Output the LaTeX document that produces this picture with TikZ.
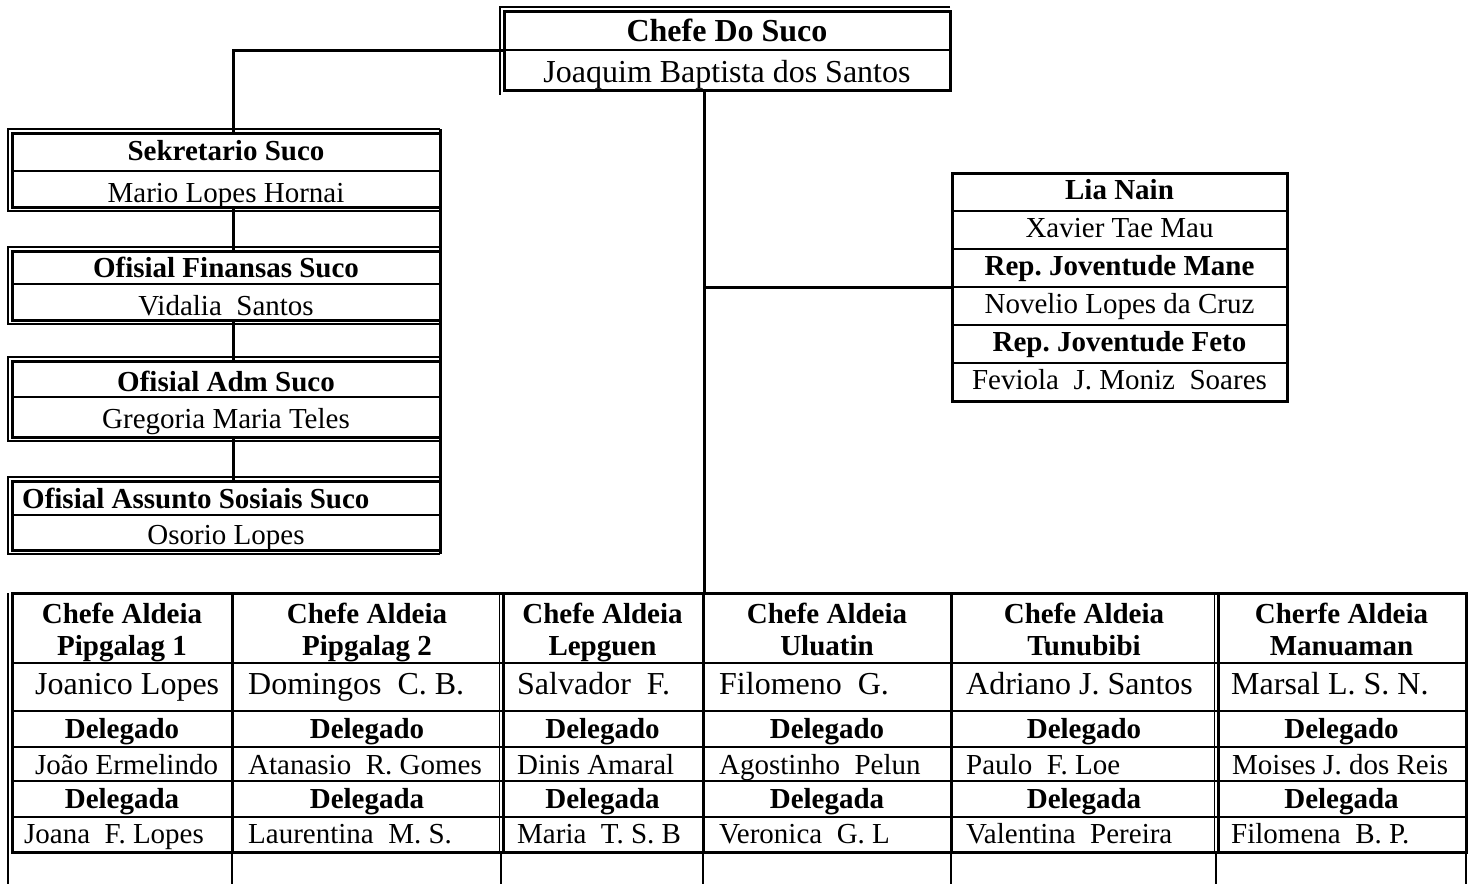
\documentclass[tikz,border=0pt]{standalone}
\usepackage{fontspec}
\setmainfont{Liberation Serif}
\usetikzlibrary{calc}
\begin{document}
\frenchspacing
\begin{tikzpicture}[x=1pt,y=-1pt,
  thk/.style={line width=3pt},
  thn/.style={line width=1.3pt},
  med/.style={line width=2.5pt},
  boxframe/.style={draw, line width=3pt, inner sep=0pt, outer sep=0pt, anchor=north west},
  tx/.style={inner sep=0pt, anchor=base, font=\fontsize{29}{32}\selectfont},
  tb/.style={tx, font=\fontsize{29}{32}\selectfont\bfseries},
  tlg/.style={tx, font=\fontsize{32}{36}\selectfont},
  tlgb/.style={tx, font=\fontsize{32}{36}\selectfont\bfseries},
  nm/.style={tx, anchor=base west},
  nmlg/.style={tlg, anchor=base west},
]
\fill[white] (0,0) rectangle (1476,884);
\useasboundingbox (0,0) rectangle (1476,884);

% ---- Chefe Do Suco
\node[boxframe, minimum width=446pt, minimum height=79pt] (chefe) at (504,11) {};
\draw[thn] (950,7) -- (500,7) -- (500,95);
\draw[med] (504,50) -- (950,50);
\node[tlgb] (chefeT) at (727,41) {Chefe Do Suco};
\node[tlg] (chefeN) at (727,82) {Joaquim Baptista dos Santos};

% ---- left column boxes
\node[boxframe, minimum width=428pt, minimum height=74pt] (sek) at (12,133) {};
\draw[thn] (440,129) -- (8,129) -- (8,211) -- (440,211);
\draw[med] (12,171) -- (440,171);
\node[tb] (sekT) at (226,160) {Sekretario Suco};
\node[tx] (sekN) at (226,202) {Mario Lopes Hornai};

\node[boxframe, minimum width=428pt, minimum height=69pt] (fin) at (12,251) {};
\draw[thn] (440,247) -- (8,247) -- (8,324) -- (440,324);
\draw[med] (12,284) -- (440,284);
\node[tb] (finT) at (226,277) {Ofisial Finansas Suco};
\node[tx] (finN) at (226,315) {Vidalia~~Santos};

\node[boxframe, minimum width=428pt, minimum height=76pt] (adm) at (12,361) {};
\draw[thn] (440,357) -- (8,357) -- (8,441) -- (440,441);
\draw[med] (12,397) -- (440,397);
\node[tb] (admT) at (226,391) {Ofisial Adm Suco};
\node[tx] (admN) at (226,428) {Gregoria Maria Teles};

\node[boxframe, minimum width=428pt, minimum height=69pt] (ass) at (12,481) {};
\draw[thn] (440,477) -- (8,477) -- (8,554) -- (440,554);
\draw[med] (12,515) -- (440,515);
\node[tb, anchor=base west] (assT) at (22,508) {Ofisial Assunto Sosiais Suco};
\node[tx] (assN) at (226,544) {Osorio Lopes};

\draw[thk] (440,129) -- (440,554);

\coordinate (xl) at (233,0);
\draw[thk] (chefe.west) -| (xl |- sek.north);
\draw[thk] (xl |- sek.south) -- (xl |- fin.north);
\draw[thk] (xl |- fin.south) -- (xl |- adm.north);
\draw[thk] (xl |- adm.south) -- (xl |- ass.north);

% ---- Lia Nain box
\node[boxframe, minimum width=335pt, minimum height=228pt] (lia) at (952,173) {};
\foreach \y in {211,249,287,325,363} \draw[med] (952,\y) -- (1287,\y);
\node[tb] (liaT) at (1119.5,199) {Lia Nain};
\node[tx] (liaN) at (1119.5,237) {Xavier Tae Mau};
\node[tb] (maneT) at (1119.5,275) {Rep. Joventude Mane};
\node[tx] (maneN) at (1119.5,313) {Novelio Lopes da Cruz};
\node[tb] (fetoT) at (1119.5,351) {Rep. Joventude Feto};
\node[tx] (fetoN) at (1119.5,389) {Feviola~~J. Moniz~~Soares};

% ---- Aldeia table
\node[boxframe, minimum width=1454pt, minimum height=259pt] (tbl) at (12,593) {};
\draw[thn] (8,593) -- (8,884);
\foreach \x in {232,503,703,951,1218} \draw[thk] (\x,593) -- (\x,852);
\foreach \x in {499.5,1214.5} \draw[thn] (\x,593) -- (\x,852);
\foreach \y in {663,711,747,781,817} \draw[med] (12,\y) -- (1466,\y);
\foreach \x in {232,501,703,951,1216,1466} \draw[thn] (\x,852) -- (\x,884);

% ---- trunk
\coordinate (xt) at (704,0);
\draw[thk] (xt |- chefe.south) -- (xt |- tbl.north);
\draw[thk] (xt |- lia.west) -- (lia.west);

\foreach \i/\c/\ha/\hb/\xa/\na/\xb/\nb/\xc/\nc in {
 1/122/Chefe Aldeia/Pipgalag 1/35/Joanico Lopes/35/João Ermelindo/24/Joana~~F. Lopes,
 2/367/Chefe Aldeia/Pipgalag 2/248/Domingos~~C. B./248/Atanasio~~R. Gomes/248/Laurentina~~M. S.,
 3/602.5/Chefe Aldeia/Lepguen/517/Salvador~~F./517/Dinis Amaral/517/Maria~~T. S. B,
 4/827/Chefe Aldeia/Uluatin/719/Filomeno~~G./719/Agostinho~~Pelun/719/Veronica~~G. L,
 5/1084/Chefe Aldeia/Tunubibi/966/Adriano J. Santos/966/Paulo~~F. Loe/966/Valentina~~Pereira,
 6/1341.5/Cherfe Aldeia/Manuaman/1231/Marsal L. S. N./1232/Moises J. dos Reis/1231/Filomena~~B. P.}
{
 \node[tb] (ha\i) at (\c,623) {\ha};
 \node[tb] (hb\i) at (\c,655) {\hb};
 \node[nmlg] (na\i) at (\xa,694) {\na};
 \node[tb] (dg\i) at (\c,738) {Delegado};
 \node[nm] (nb\i) at (\xb,774) {\nb};
 \node[tb] (da\i) at (\c,808) {Delegada};
 \node[nm] (nc\i) at (\xc,843) {\nc};
}
\end{tikzpicture}
\end{document}
